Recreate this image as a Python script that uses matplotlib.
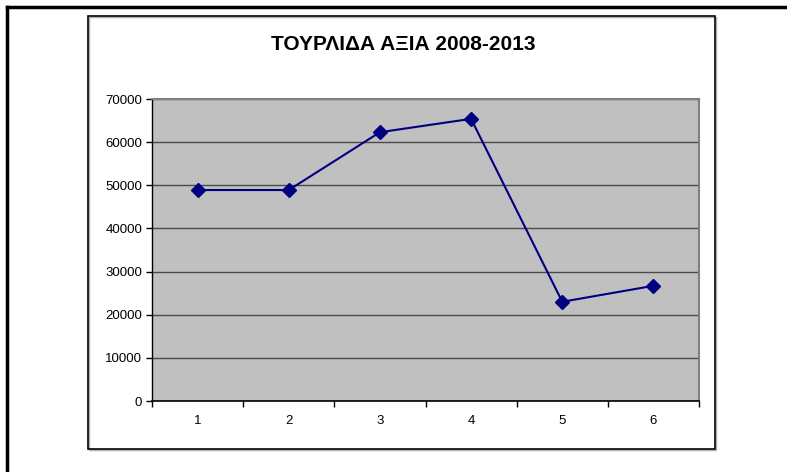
import matplotlib
matplotlib.use("Agg")
import matplotlib.pyplot as plt
from matplotlib.patches import Rectangle
from matplotlib.lines import Line2D

categories = ["1", "2", "3", "4", "5", "6"]
values = [48900, 48900, 62300, 65400, 23000, 26700]
yticks = [0, 10000, 20000, 30000, 40000, 50000, 60000, 70000]
title = "ΤΟΥΡΛΙΔΑ ΑΞΙΑ 2008-2013"

plt.rcParams['font.family'] = ['Liberation Sans', 'DejaVu Sans']

W, H = 787, 472
fig = plt.figure(figsize=(W / 100, H / 100), dpi=100)

# outer frame lines (top and left)
fig.add_artist(Line2D([7 / W, 1.0], [1 - 7 / H, 1 - 7 / H], color="black", lw=2.5, transform=fig.transFigure))
fig.add_artist(Line2D([7 / W, 7 / W], [1 - 7 / H, 0.0], color="black", lw=2.5, transform=fig.transFigure))

# inner chart box with slight shadow
fig.add_artist(Rectangle((89 / W, 1 - 450 / H), (716 - 89) / W, (450 - 17) / H,
                         transform=fig.transFigure, fill=False, edgecolor="#b0b0b0", lw=1.0))
fig.add_artist(Rectangle((88 / W, 1 - 449 / H), (715 - 88) / W, (449 - 16) / H,
                         transform=fig.transFigure, fill=False, edgecolor="black", lw=1.2))

left, right, top, bottom = 152, 699, 99, 401
ax = fig.add_axes([left / W, 1 - bottom / H, (right - left) / W, (bottom - top) / H])
ax.set_facecolor("#c0c0c0")

x = list(range(1, len(categories) + 1))
ax.plot(x, values, color="#000080", lw=1.5, marker="D", markersize=7,
        markerfacecolor="#000080", markeredgecolor="#000080", zorder=3)

ax.set_xlim(0.5, len(categories) + 0.5)
ax.set_ylim(0, 70000)
ax.set_yticks(yticks)
ax.set_yticklabels([str(v) for v in yticks], fontsize=9.5)
ax.set_xticks(x)
ax.set_xticklabels(categories, fontsize=9.5)
ax.tick_params(axis="x", which="major", length=0, pad=10)
ax.set_xticks([i + 0.5 for i in range(len(categories) + 1)], minor=True)
ax.tick_params(axis="x", which="minor", length=4, width=1, color="black", direction="out")
ax.tick_params(axis="y", length=4, width=1, color="black", direction="out", pad=3)

ax.yaxis.grid(True, color="#4a4a4a", lw=1)
ax.set_axisbelow(True)

for side in ["top", "right"]:
    ax.spines[side].set_color("#808080")
    ax.spines[side].set_linewidth(1.5)
ax.spines["left"].set_color("black")
ax.spines["bottom"].set_color("black")
ax.spines["left"].set_linewidth(1)
ax.spines["bottom"].set_linewidth(1.2)

fig.text(403 / W, 1 - 44 / H, title, ha="center", va="center", fontsize=15, fontweight="bold")

fig.savefig("out.png", dpi=100, facecolor="white")
